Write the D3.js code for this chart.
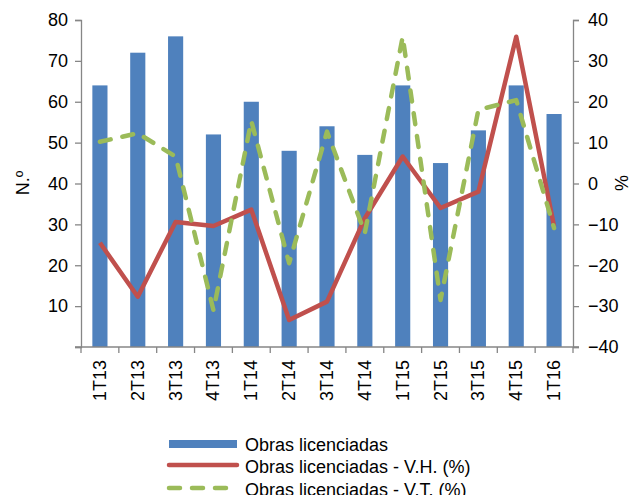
<!DOCTYPE html>
<html>
<head>
<meta charset="utf-8">
<script src="https://cdn.jsdelivr.net/npm/d3@7"></script>
<style>
  body { margin: 0; background: #fff; }
  text { font-family: "Liberation Sans", Arial, sans-serif; fill: #000; }
</style>
</head>
<body>
<svg id="chart"></svg>
<script>
// data
var quarters = ["1T13","2T13","3T13","4T13","1T14","2T14","3T14","4T14","1T15","2T15","3T15","4T15","1T16"];
var obras = [64, 72, 76, 52, 60, 48, 54, 47, 64, 45, 53, 64, 57];
var varHomologa = [-14.5, -27.7, -9.4, -10.4, -6.4, -33.4, -28.9, -8.5, 6.6, -6, -2, 35.9, -10.5];
var varTrimestral = [10.2, 12.3, 6.6, -31, 15.3, -19.5, 12.7, -12.1, 35.9, -28.5, 18, 20.4, -10.9];
var leftTicks = [10, 20, 30, 40, 50, 60, 70, 80];
var rightTicks = [-40, -30, -20, -10, 0, 10, 20, 30, 40];
var legendLabels = ["Obras licenciadas", "Obras licenciadas - V.H. (%)", "Obras licenciadas - V.T. (%)"];

var W = 630, H = 495;
var plotLeft = 81, plotRight = 573, plotTop = 20, plotBottom = 347;
var axisColor = "#868686";

var svg = d3.select("#chart").attr("width", W).attr("height", H);

var x = d3.scaleBand().domain(quarters).range([plotLeft, plotRight]).paddingInner(0.6).paddingOuter(0.3);
var yL = d3.scaleLinear().domain([0, 80]).range([plotBottom, plotTop]);
var yR = d3.scaleLinear().domain([-40, 40]).range([plotBottom, plotTop]);

// bars
svg.append("g").selectAll("rect")
  .data(obras)
  .enter().append("rect")
    .attr("x", function(d, i) { return x(quarters[i]); })
    .attr("y", function(d) { return yL(d); })
    .attr("width", x.bandwidth())
    .attr("height", function(d) { return plotBottom - yL(d); })
    .attr("fill", "#4F81BD");

// axes
var gL = svg.append("g").attr("transform", "translate(" + plotLeft + ",0)")
  .call(d3.axisLeft(yL).tickValues([0].concat(leftTicks)).tickSize(6).tickPadding(7)
    .tickFormat(function(d) { return d === 0 ? "" : d; }));
var gR = svg.append("g").attr("transform", "translate(" + plotRight + ",0)")
  .call(d3.axisRight(yR).tickValues(rightTicks).tickSize(6).tickPadding(9));
[gL, gR].forEach(function(g) {
  g.select(".domain").attr("stroke", axisColor).attr("stroke-width", 1.3);
  g.selectAll(".tick line").attr("stroke", axisColor).attr("stroke-width", 1.3);
  g.selectAll(".tick text").style("font-size", "18px").attr("font-family", null).attr("fill", "#000");
});

// bottom axis with ticks between categories
var boundaries = d3.range(quarters.length + 1).map(function(i) { return plotLeft + i * (plotRight - plotLeft) / quarters.length; });
svg.append("line").attr("x1", plotLeft - 6).attr("x2", plotRight + 6).attr("y1", plotBottom).attr("y2", plotBottom)
  .attr("stroke", axisColor).attr("stroke-width", 1.3);
svg.append("g").selectAll("line").data(boundaries).enter().append("line")
  .attr("x1", function(d) { return d; }).attr("x2", function(d) { return d; })
  .attr("y1", plotBottom).attr("y2", plotBottom + 6)
  .attr("stroke", axisColor).attr("stroke-width", 1.3);
svg.append("g").selectAll("text").data(quarters).enter().append("text")
  .attr("transform", function(d) { return "translate(" + (x(d) + x.bandwidth() / 2 + 6) + "," + (plotBottom + 13) + ") rotate(-90)"; })
  .attr("text-anchor", "end")
  .style("font-size", "18px")
  .text(function(d) { return d; });

// axis titles
svg.append("text").attr("transform", "translate(29,183) rotate(-90)")
  .attr("text-anchor", "middle").style("font-size", "18px").text("N.º");
svg.append("text").attr("transform", "translate(628,183) rotate(-90)")
  .attr("text-anchor", "middle").style("font-size", "18px").text("%");

// lines
var cx = function(i) { return x(quarters[i]) + x.bandwidth() / 2; };
var line = d3.line().x(function(d, i) { return cx(i); }).y(function(d) { return yR(d); });

svg.append("path").datum(varHomologa)
  .attr("d", line).attr("fill", "none")
  .attr("stroke", "#C0504D").attr("stroke-width", 4.5).attr("stroke-linejoin", "round");
svg.append("path").datum(varTrimestral)
  .attr("d", line).attr("fill", "none")
  .attr("stroke", "#9BBB59").attr("stroke-width", 4.5).attr("stroke-linejoin", "round")
  .attr("stroke-linecap", "round").attr("stroke-dasharray", "11,12");

// legend
var lg = svg.append("g");
lg.append("rect").attr("x", 169).attr("y", 440).attr("width", 68).attr("height", 8).attr("fill", "#4F81BD");
lg.append("line").attr("x1", 169).attr("x2", 237).attr("y1", 465).attr("y2", 465)
  .attr("stroke", "#C0504D").attr("stroke-width", 4.5).attr("stroke-linecap", "round");
lg.append("line").attr("x1", 169).attr("x2", 237).attr("y1", 488).attr("y2", 488)
  .attr("stroke", "#9BBB59").attr("stroke-width", 4.5).attr("stroke-linecap", "round")
  .attr("stroke-dasharray", "11,12");
lg.selectAll("text").data(legendLabels).enter().append("text")
  .attr("x", 245).attr("y", function(d, i) { return 450.5 + i * 22.7; })
  .style("font-size", "18px")
  .text(function(d) { return d; });
</script>
</body>
</html>
